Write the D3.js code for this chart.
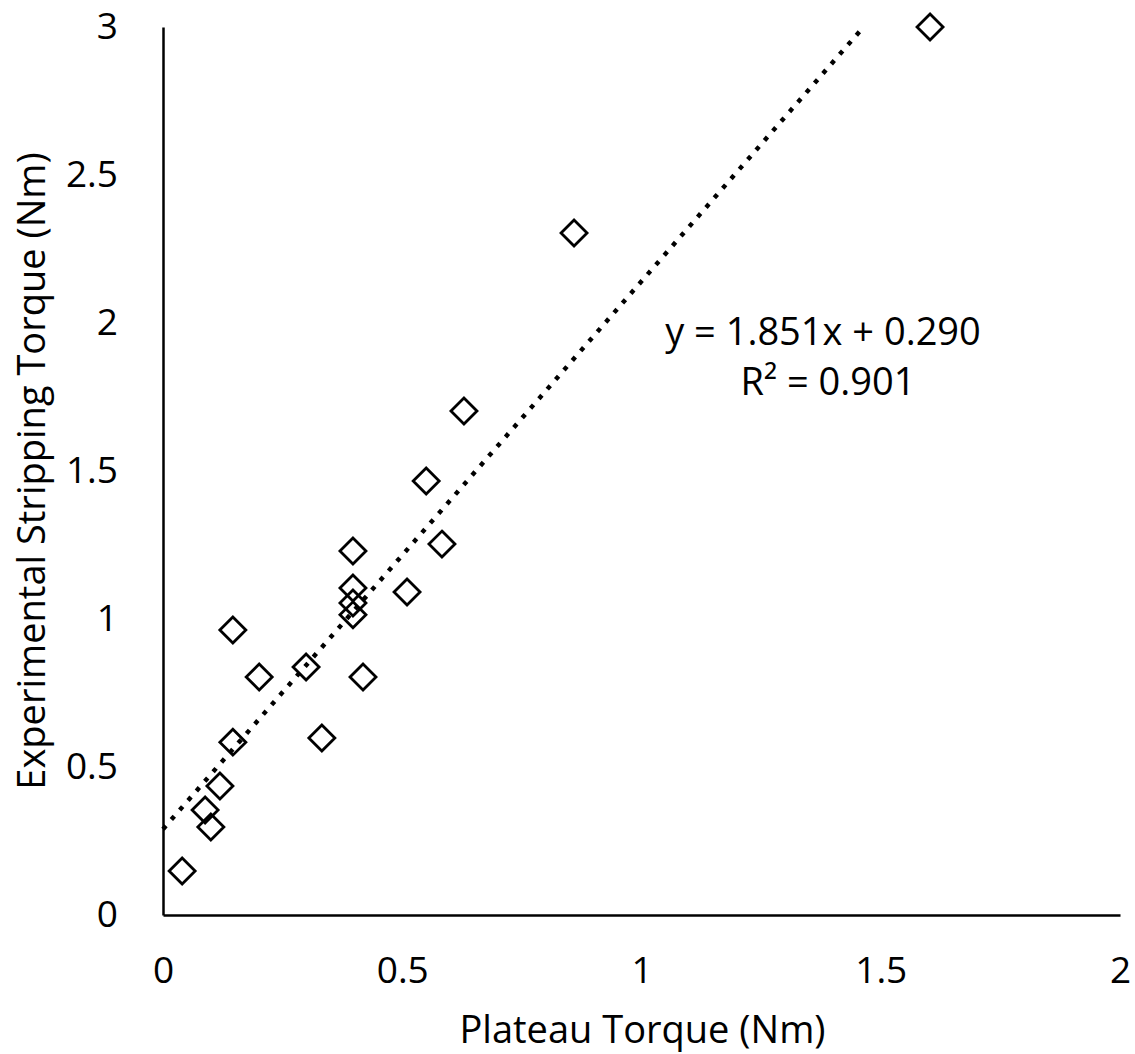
<!DOCTYPE html>
<html lang="en">
<head>
<meta charset="utf-8">
<title>Plateau vs Stripping Torque</title>
<script src="https://cdn.jsdelivr.net/npm/d3@7"></script>
<style>
  body { margin: 0; background: #fff; }
  text { font-family: "Open Sans", sans-serif; fill: #000; }
</style>
</head>
<body>
<script>
/* data */
var plateau = [0.040, 0.100, 0.088, 0.119, 0.146, 0.332, 0.201, 0.299, 0.418, 0.146,
               0.397, 0.397, 0.397, 0.510, 0.397, 0.583, 0.550, 0.629, 0.859, 1.603];
var stripping = [0.149, 0.297, 0.355, 0.436, 0.584, 0.598, 0.804, 0.838, 0.804, 0.963,
                 1.014, 1.054, 1.105, 1.091, 1.230, 1.253, 1.466, 1.703, 2.304, 3.000];
var xTicks = [0, 0.5, 1, 1.5, 2];
var yTicks = [0, 0.5, 1, 1.5, 2, 2.5, 3];
var slope = 1.851, intercept = 0.290;
var eqLabel = "y = 1.851x + 0.290";
var r2Label = "R² = 0.901";

var W = 1135, H = 1054;
var margin = {top: 27, right: 15, bottom: 139, left: 163};
var width = W - margin.left - margin.right;
var height = H - margin.top - margin.bottom;

var x = d3.scaleLinear().domain([0, 2]).range([0, width]);
var y = d3.scaleLinear().domain([0, 3]).range([height, 0]);

var svg = d3.select("body").append("svg")
  .attr("width", W)
  .attr("height", H)
  .append("g")
  .attr("transform", "translate(" + margin.left + "," + margin.top + ")");

/* axes, no tick marks */
var xAxis = svg.append("g")
  .attr("transform", "translate(0," + height + ")")
  .call(d3.axisBottom(x).tickValues(xTicks).tickSize(0).tickPadding(42).tickFormat(d3.format("")));
var yAxis = svg.append("g")
  .call(d3.axisLeft(y).tickValues(yTicks).tickSize(0).tickPadding(45).tickFormat(d3.format("")));

[xAxis, yAxis].forEach(function(a) {
  a.select(".domain").attr("stroke", "#000").attr("stroke-width", 2.5);
  a.selectAll("text").style("font-size", "37px").attr("fill", "#000");
});

/* trendline */
var xEnd = (3 - intercept) / slope;
svg.append("line")
  .attr("x1", x(0)).attr("y1", y(intercept))
  .attr("x2", x(xEnd)).attr("y2", y(slope * xEnd + intercept))
  .attr("stroke", "#000")
  .attr("stroke-width", 4.5)
  .attr("stroke-dasharray", "4.5,8.2");

/* diamond markers */
var s = 13;
svg.selectAll(".pt")
  .data(plateau)
  .enter().append("path")
  .attr("class", "pt")
  .attr("d", function(d, i) {
    var cx = x(d), cy = y(stripping[i]);
    return "M" + cx + "," + (cy - s) + "L" + (cx + s) + "," + cy +
           "L" + cx + "," + (cy + s) + "L" + (cx - s) + "," + cy + "Z";
  })
  .attr("fill", "none")
  .attr("stroke", "#000")
  .attr("stroke-width", 2.8);

/* equation */
svg.append("text")
  .attr("x", 823 - margin.left).attr("y", 345 - margin.top)
  .attr("text-anchor", "middle")
  .style("font-size", "38px")
  .text(eqLabel);
svg.append("text")
  .attr("x", 828 - margin.left).attr("y", 395 - margin.top)
  .attr("text-anchor", "middle")
  .style("font-size", "38px")
  .text(r2Label);

/* axis titles */
svg.append("text")
  .attr("x", width / 2 + 1).attr("y", 1043 - margin.top)
  .attr("text-anchor", "middle")
  .style("font-size", "38px")
  .text("Plateau Torque (Nm)");
svg.append("text")
  .attr("transform", "translate(" + (45 - margin.left) + "," + (471 - margin.top) + ") rotate(-90)")
  .attr("text-anchor", "middle")
  .style("font-size", "38px")
  .text("Experimental Stripping Torque (Nm)");
</script>
</body>
</html>
